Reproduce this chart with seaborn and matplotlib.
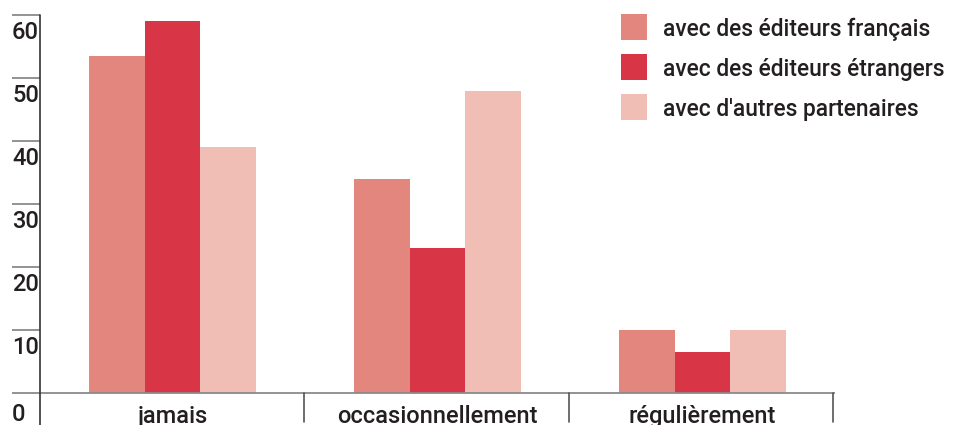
import matplotlib
matplotlib.use("Agg")
import matplotlib.pyplot as plt
import matplotlib.transforms as mtransforms
from matplotlib.patches import Rectangle
import seaborn as sns
import pandas as pd

# Survey answers (percent of respondents)
categories = ["jamais", "occasionnellement", "régulièrement"]
series_names = ["avec des éditeurs français",
                "avec des éditeurs étrangers",
                "avec d'autres partenaires"]
editeurs_francais = [53.5, 34.0, 10.0]
editeurs_etrangers = [59.0, 23.0, 6.5]
autres_partenaires = [39.0, 48.0, 10.0]
y_ticks = [0, 10, 20, 30, 40, 50, 60]

colors = ["#E3877E", "#D83546", "#F0BEB4"]
text_color = "#231F20"
rule_gray = "#8A8A8A"
FS = 17
FS_LEG = 16.4
FW = "medium"

rows = []
for name, vals in zip(series_names,
                      [editeurs_francais, editeurs_etrangers, autres_partenaires]):
    for cat, v in zip(categories, vals):
        rows.append({"categorie": cat, "serie": name, "pct": v})
df = pd.DataFrame(rows)

sns.set_theme(style="white")
plt.rcParams["font.family"] = ["Roboto", "DejaVu Sans"]

W, H = 964, 425
fig = plt.figure(figsize=(W / 100, H / 100), dpi=100)
ax_left, ax_right = 40, 835
ax_top, ax_bottom = 15, 393.3
ax = fig.add_axes([ax_left / W, (H - ax_bottom) / H,
                   (ax_right - ax_left) / W, (ax_bottom - ax_top) / H])

sns.barplot(data=df, x="categorie", y="pct", hue="serie",
            order=categories, hue_order=series_names,
            palette=colors, width=0.63, gap=0, saturation=1,
            linewidth=0, legend=False, ax=ax)

ax.set_xlim(-0.5, len(categories) - 0.5)
ax.set_ylim(0, 60)
ax.set_xlabel("")
ax.set_ylabel("")
ax.set_xticks([])
ax.set_yticks([])
for s in ax.spines.values():
    s.set_visible(False)

# y scale: short rules at the left with the value written underneath
ytrans = mtransforms.blended_transform_factory(fig.transFigure, ax.transData)
for v in y_ticks:
    x1 = ax_right if v == 0 else ax_left
    ax.plot([12 / W, x1 / W], [v, v], transform=ytrans, color=rule_gray,
            lw=1.3, clip_on=False, solid_capstyle="butt")
    drop = 28 if v == 0 else 24
    below = mtransforms.ScaledTranslation(0, -drop / 100, fig.dpi_scale_trans)
    ax.text(12 / W, v, str(v), transform=ytrans + below,
            ha="left", va="baseline", fontsize=FS, fontweight=FW, color=text_color)

# vertical axis line running past the baseline
fig.add_artist(plt.Line2D([ax_left / W, ax_left / W], [(H - 425) / H, (H - 15) / H],
                          color="#333333", lw=1.2))

# category separators and labels under the baseline
label_shift = mtransforms.ScaledTranslation(0, -30 / 100, fig.dpi_scale_trans)
for i, cat in enumerate(categories):
    xr = ax_left + (i + 1) * (ax_right - ax_left - 2) / len(categories)
    fig.add_artist(plt.Line2D([xr / W, xr / W], [(H - 422) / H, (H - 393.3) / H],
                              color="#555555", lw=1.2))
    ax.text(i, 0, cat, transform=ax.transData + label_shift,
            ha="center", va="baseline", fontsize=FS, fontweight=FW,
            color=text_color, clip_on=False)

# legend
for j, (name, c) in enumerate(zip(series_names, colors)):
    top = 14 + 40 * j
    fig.add_artist(Rectangle((621 / W, (H - top - 26) / H), 26 / W, 26 / H,
                             transform=fig.transFigure, facecolor=c, edgecolor="none"))
    fig.text(663 / W, (H - top - 13) / H, name, ha="left", va="center_baseline",
             fontsize=FS_LEG, fontweight=FW, color=text_color)

fig.savefig("out.png", dpi=100)
